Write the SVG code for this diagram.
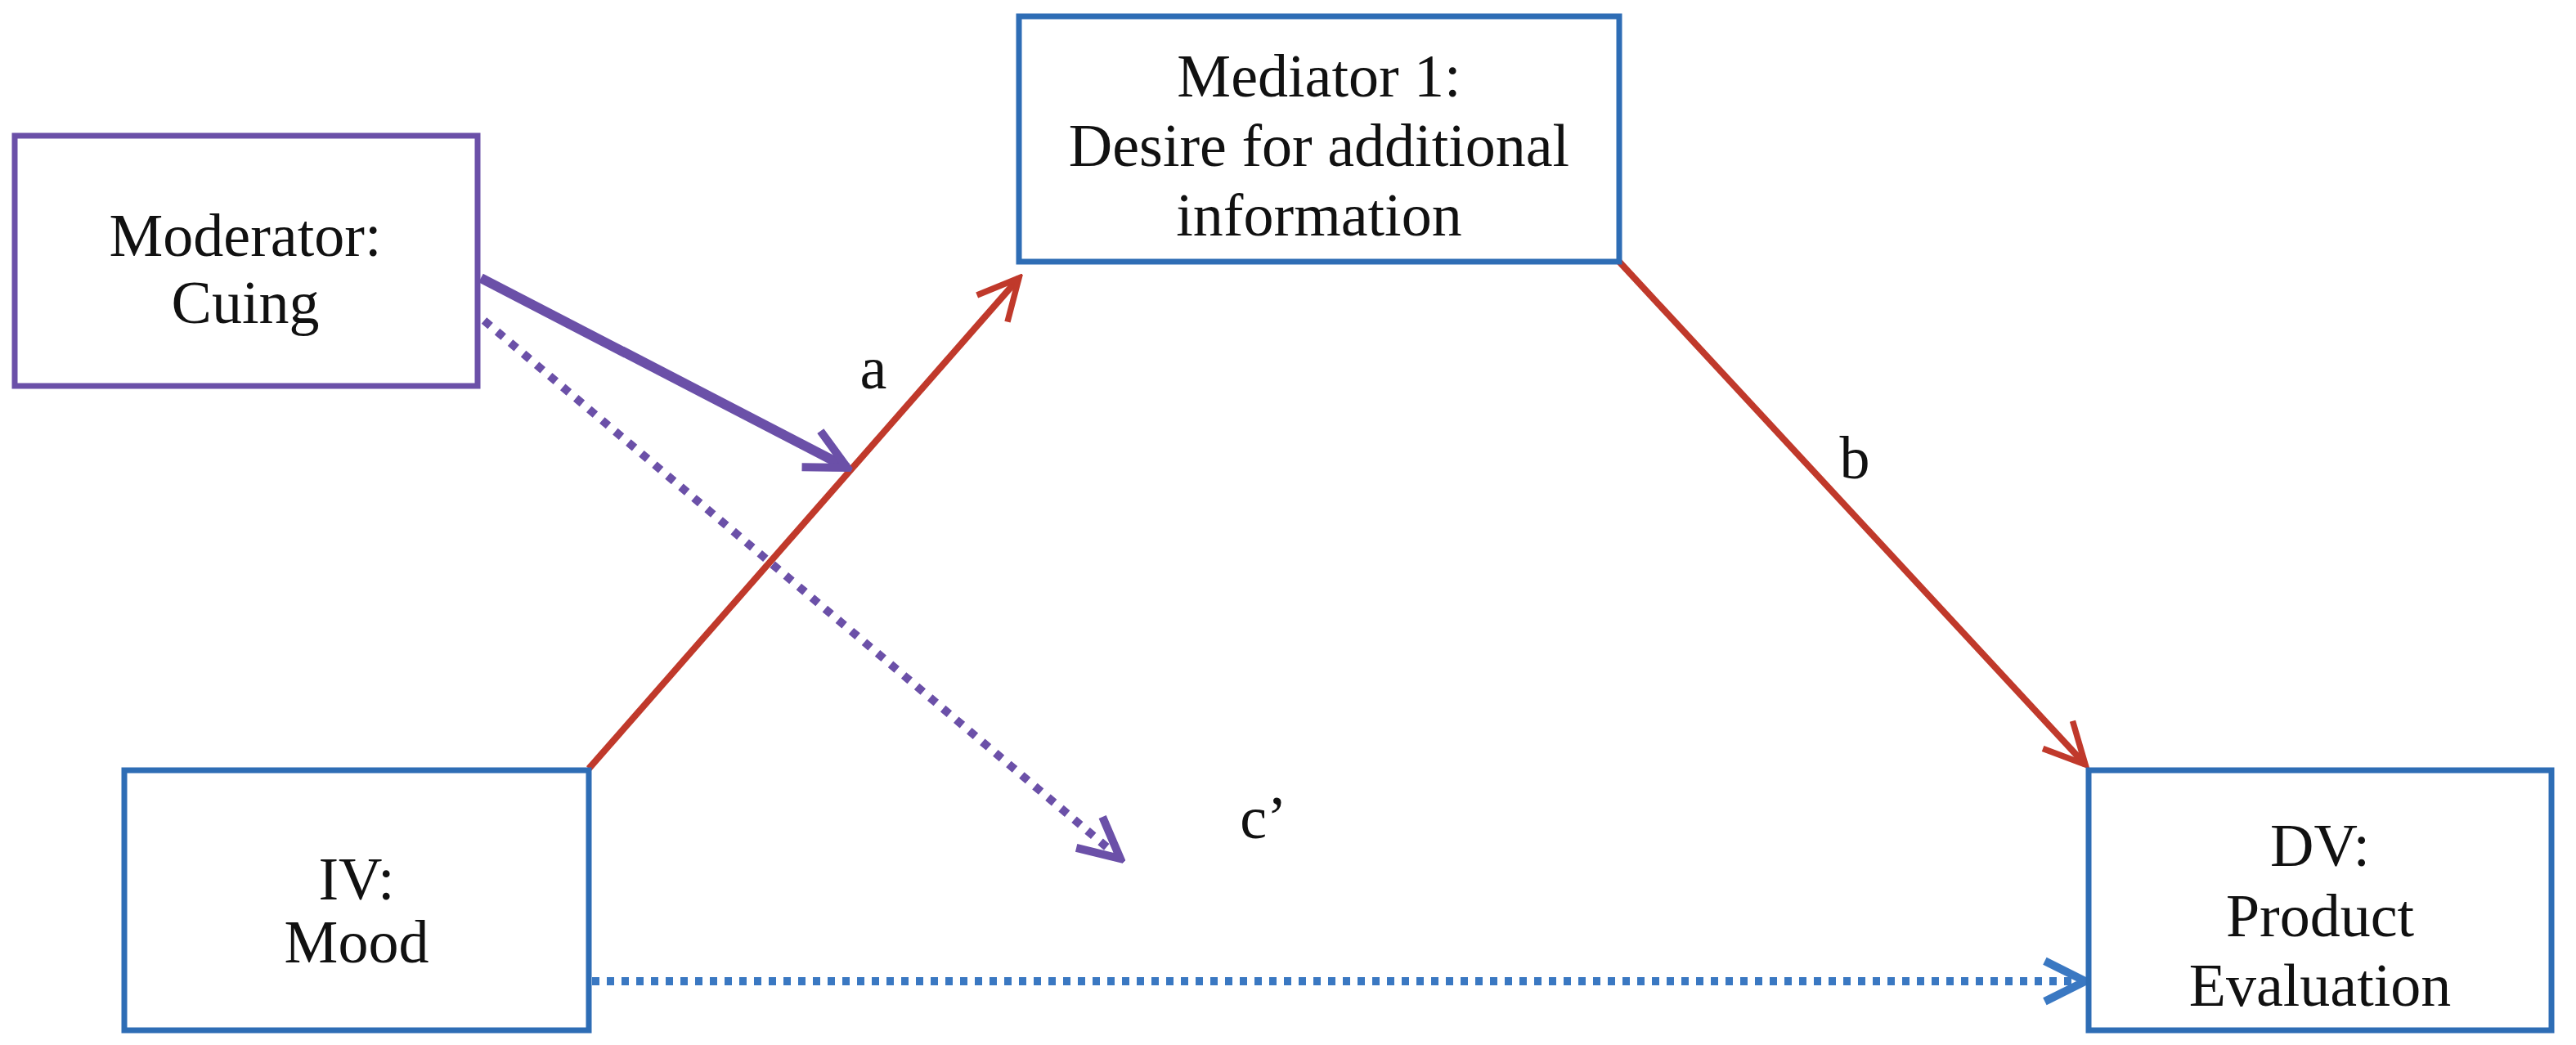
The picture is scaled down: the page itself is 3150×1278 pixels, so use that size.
<svg xmlns="http://www.w3.org/2000/svg" width="3150" height="1278" viewBox="0 0 3150 1278">
<style>
text{font-family:"Liberation Serif",serif;font-size:74px;fill:#111;text-anchor:middle}
.box{fill:#fff;stroke-width:7}
</style>
<defs>
<marker id="mr" viewBox="0 0 10 10" refX="9" refY="5" markerWidth="62" markerHeight="62" markerUnits="userSpaceOnUse" orient="auto"><path d="M1,1 L9,5 L1,9" fill="none" stroke="#c0392b" stroke-width="1.2"/></marker>
<marker id="mp" viewBox="0 0 10 10" refX="9" refY="5" markerWidth="62" markerHeight="62" markerUnits="userSpaceOnUse" orient="auto"><path d="M1,1 L9,5 L1,9" fill="none" stroke="#6b50a8" stroke-width="1.6"/></marker>
<marker id="mb" viewBox="0 0 10 10" refX="9" refY="5" markerWidth="62" markerHeight="62" markerUnits="userSpaceOnUse" orient="auto"><path d="M1,1 L9,5 L1,9" fill="none" stroke="#3a78c2" stroke-width="1.6"/></marker>
</defs>
<rect width="3150" height="1278" fill="#fff"/>
<g id="connectors" fill="none">
<line x1="720" y1="940" x2="1246" y2="340" stroke="#c0392b" stroke-width="8" marker-end="url(#mr)"/>
<line x1="1980" y1="320" x2="2550" y2="935" stroke="#c0392b" stroke-width="8" marker-end="url(#mr)"/>
<line x1="588" y1="340" x2="1036" y2="572" stroke="#6b50a8" stroke-width="12" marker-end="url(#mp)"/>
<line x1="592" y1="392" x2="1370" y2="1050" stroke="#6b50a8" stroke-width="10" stroke-dasharray="10,11" marker-end="url(#mp)"/>
<line x1="724" y1="1200" x2="2550" y2="1200" stroke="#3a78c2" stroke-width="10" stroke-dasharray="9,9" marker-end="url(#mb)"/>
<text x="1068" y="475">a</text>
<text x="2268" y="585">b</text>
<text x="1545" y="1025">c’</text>
</g>
<g id="moderator"><rect class="box" x="18" y="166" width="566" height="306" stroke="#6b50a8"/>
<text x="300" y="313">Moderator:</text><text x="300" y="395">Cuing</text></g>
<g id="mediator"><rect class="box" x="1246" y="20" width="734" height="300" stroke="#2e6db5"/>
<text x="1613" y="118">Mediator 1:</text><text x="1613" y="203">Desire for additional</text><text x="1613" y="288">information</text></g>
<g id="iv"><rect class="box" x="152" y="942" width="568" height="318" stroke="#2e6db5"/>
<text x="436" y="1100">IV:</text><text x="436" y="1177">Mood</text></g>
<g id="dv"><rect class="box" x="2554" y="942" width="566" height="318" stroke="#2e6db5"/>
<text x="2837" y="1059">DV:</text><text x="2837" y="1145">Product</text><text x="2837" y="1230">Evaluation</text></g>
</svg>
